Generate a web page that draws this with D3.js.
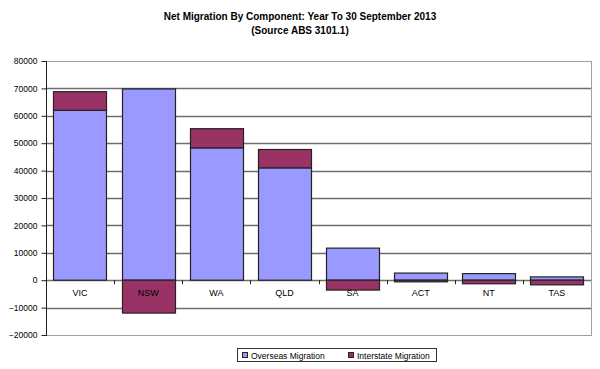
<!DOCTYPE html>
<html>
<head>
<meta charset="utf-8">
<script src="https://cdn.jsdelivr.net/npm/d3@7"></script>
<style>
    body { margin: 0; background: #fff; }
    text { font-family: "Liberation Sans", Arial, sans-serif; fill: #000; }
    .title { font-weight: bold; font-size: 10px; }
    .axis text { font-size: 8.5px; }
    .catLabel { font-size: 9px; }
    .legend text { font-size: 8.5px; }
</style>
</head>
<body>
<script>
(function () {

    //chart data
    var states = ["VIC", "NSW", "WA", "QLD", "SA", "ACT", "NT", "TAS"];
    var overseas = [62000, 69800, 48300, 41000, 11700, 2600, 2400, 1200];
    var interstate = [6800, -12000, 7000, 6700, -3600, -600, -1300, -1700];
    var seriesNames = ["Overseas Migration", "Interstate Migration"];
    var seriesColors = ["#9999ff", "#993366"];
    var yTicks = [-20000, -10000, 0, 10000, 20000, 30000, 40000, 50000, 60000, 70000, 80000];

    var width = 600,
        height = 369;

    //plot frame
    var left = 46, right = 591, top = 61, bottom = 335;

    var svg = d3.select("body")
        .append("svg")
        .attr("width", width)
        .attr("height", height);

    //title
    svg.append("text")
        .attr("class", "title")
        .attr("x", 300)
        .attr("y", 20)
        .attr("text-anchor", "middle")
        .text("Net Migration By Component: Year To 30 September 2013");
    svg.append("text")
        .attr("class", "title")
        .attr("x", 300)
        .attr("y", 34)
        .attr("text-anchor", "middle")
        .text("(Source ABS 3101.1)");

    var x = d3.scaleBand()
        .domain(states)
        .range([left, right])
        .paddingInner(0.22)
        .paddingOuter(0.11);

    var y = d3.scaleLinear()
        .domain([-20000, 80000])
        .range([bottom, top]);

    //gridlines
    svg.append("g")
        .selectAll("line")
        .data(yTicks)
        .enter()
        .append("line")
        .attr("x1", left)
        .attr("x2", right)
        .attr("y1", function (d) { return Math.round(y(d)) + 0.5; })
        .attr("y2", function (d) { return Math.round(y(d)) + 0.5; })
        .attr("stroke", function (d) { return d == 80000 || d == -20000 ? "#a0a0a0" : "#6e6e6e"; })
        .attr("stroke-width", function (d) { return d == 80000 || d == -20000 ? 1.2 : 1.5; });

    //right border
    svg.append("line")
        .attr("x1", right + 0.5).attr("x2", right + 0.5)
        .attr("y1", top).attr("y2", bottom + 1)
        .attr("stroke", "#a0a0a0");

    //stack data
    var table = states.map(function (s, i) {
        return { state: s, overseas: overseas[i], interstate: interstate[i] };
    });
    var stacked = d3.stack()
        .keys(["overseas", "interstate"])
        .offset(d3.stackOffsetDiverging)(table);

    var layers = svg.append("g")
        .selectAll("g")
        .data(stacked)
        .enter()
        .append("g")
        .attr("fill", function (d, i) { return seriesColors[i]; });

    layers.selectAll("rect")
        .data(function (d) { return d; })
        .enter()
        .append("rect")
        .attr("x", function (d) { return Math.round(x(d.data.state)) + 0.5; })
        .attr("width", Math.round(x.bandwidth()))
        .attr("y", function (d) { return y(Math.max(d[0], d[1])); })
        .attr("height", function (d) { return Math.abs(y(d[0]) - y(d[1])); })
        .attr("stroke", "#222")
        .attr("stroke-width", 1.2);

    //y axis
    var yAxis = d3.axisLeft(y)
        .tickValues(yTicks)
        .tickSize(5)
        .tickFormat(d3.format("d"));

    var axis = svg.append("g")
        .attr("class", "axis")
        .attr("transform", "translate(" + (left + 0.5) + ",0)")
        .call(yAxis);
    axis.select(".domain").attr("stroke", "#222").attr("d", "M0," + top + "V" + (bottom + 1));
    axis.selectAll(".tick line").attr("stroke", "#222");
    axis.selectAll(".tick text").attr("x", -9);

    //x ticks at zero line between categories
    var boundaries = states.map(function (s) { return x(s) - x.step() * x.paddingInner() / 2; });
    svg.append("g")
        .selectAll("line")
        .data(boundaries)
        .enter()
        .append("line")
        .attr("x1", function (d) { return Math.round(d) + 0.5; })
        .attr("x2", function (d) { return Math.round(d) + 0.5; })
        .attr("y1", y(0))
        .attr("y2", y(0) + 4)
        .attr("stroke", "#222");

    //category labels
    svg.append("g")
        .selectAll("text")
        .data(states)
        .enter()
        .append("text")
        .attr("class", "catLabel")
        .attr("x", function (d) { return x(d) + x.bandwidth() / 2; })
        .attr("y", y(0) + 16)
        .attr("text-anchor", "middle")
        .text(function (d) { return d; });

    //legend
    var legend = svg.append("g").attr("class", "legend");
    legend.append("rect")
        .attr("x", 237.5).attr("y", 348.5)
        .attr("width", 199).attr("height", 13)
        .attr("fill", "#fff").attr("stroke", "#333");
    var legendX = [242, 348];
    seriesNames.forEach(function (name, i) {
        legend.append("rect")
            .attr("x", legendX[i] + 0.5).attr("y", 352.5)
            .attr("width", 5).attr("height", 5)
            .attr("fill", seriesColors[i]).attr("stroke", "#222");
        legend.append("text")
            .attr("x", legendX[i] + 9)
            .attr("y", 358.5)
            .text(name);
    });
})();
</script>
</body>
</html>
